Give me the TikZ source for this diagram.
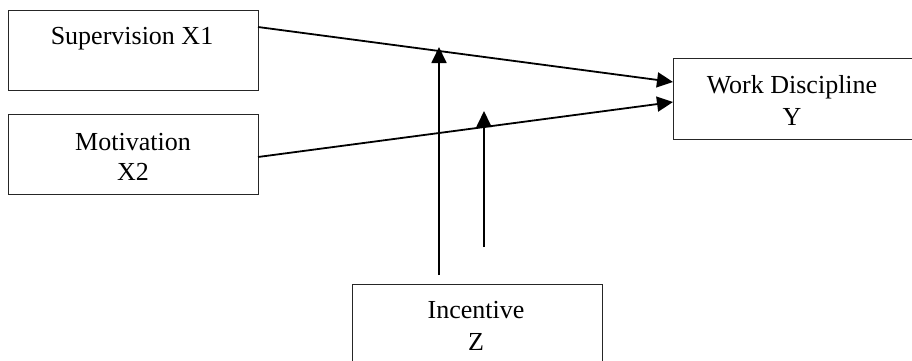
\documentclass[tikz,border=0pt]{standalone}
\usepackage{fontspec}
\setmainfont{Liberation Serif}
\usetikzlibrary{arrows.meta}
\begin{document}
\begin{tikzpicture}[x=1pt,y=-1pt,
  box/.style={draw=black!85,line width=1.3pt,rectangle,inner sep=0pt,anchor=north west},
  lbl/.style={anchor=base,inner sep=0pt,font=\fontsize{26}{30}\selectfont},
  conn/.style={line width=1.8pt,-{Triangle[length=16pt,width=15pt]}}]
\useasboundingbox (0,0) rectangle (912,361);
% boxes
\node[box,minimum width=250pt,minimum height=80pt] (x1) at (8,10) {};
\node[box,minimum width=250pt,minimum height=80pt] (x2) at (8,114) {};
\node[box,minimum width=260pt,minimum height=81pt] (y) at (673,58) {};
\node[box,minimum width=250pt,minimum height=100pt] (z) at (352,284) {};
% texts
\node[lbl] (tx1) at (132,45) {Supervision X1};
\node[lbl] (tx2a) at (133,150) {Motivation};
\node[lbl] (tx2b) at (133,180) {X2};
\node[lbl] (tya) at (792,93) {Work Discipline};
\node[lbl] (tyb) at (792,125) {Y};
\node[lbl] (tza) at (476,318) {Incentive};
\node[lbl] (tzb) at (476,350) {Z};
% connector ends
\coordinate (s1) at (258,27);
\coordinate (e1) at (673,82);
\coordinate (s2) at (258,157);
\coordinate (e2) at (673,102);
\coordinate (v1s) at (439,275);
\coordinate (v1e) at (439,47);
\coordinate (v2s) at (484,247);
\coordinate (v2e) at (484,111);
\draw[conn] (s1) -- (e1);
\draw[conn] (s2) -- (e2);
\draw[conn] (v1s) -- (v1e);
\draw[conn] (v2s) -- (v2e);
\end{tikzpicture}
\end{document}
